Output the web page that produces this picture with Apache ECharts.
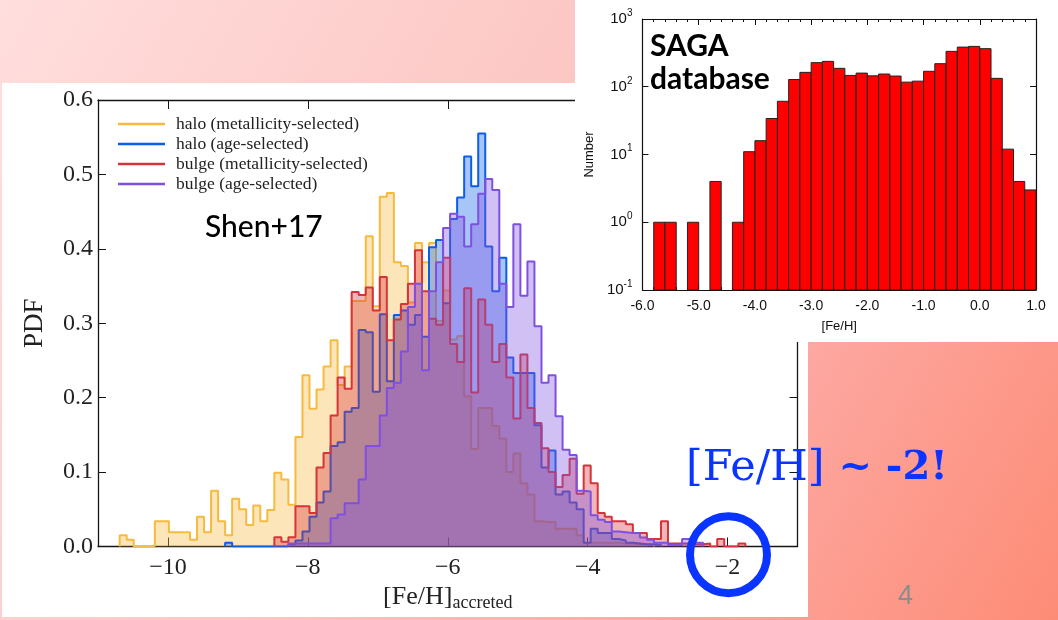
<!DOCTYPE html>
<html><head><meta charset="utf-8">
<script src="https://cdn.jsdelivr.net/npm/echarts@6.0.0/dist/echarts.min.js"></script>
<style>
html,body{margin:0;padding:0;width:1058px;height:620px;overflow:hidden;background:#fff;}
#main{position:absolute;left:0;top:0;width:1058px;height:620px;}
#inset{position:absolute;left:575px;top:0;width:483px;height:342px;background:#fff;}
</style></head><body>
<div id="main"></div><div id="inset"></div>
<script>
// ---- main figure data (PDF per [Fe/H] bin) ----
const binStart = -10.69;
const binWidth = 0.1005;
const haloMetal = [0.015,0.009,0,0,0,0.034,0.034,0.019,0.019,0.019,
  0.009,0.040,0.019,0.075,0.034,0.015,0.064,0.050,0.029,0.055,
  0.034,0.049,0.099,0.090,0.056,0.147,0.230,0.185,0.211,0.242,
  0.277,0.217,0.242,0.330,0.330,0.417,0.323,0.470,0.475,0.382,
  0.377,0.328,0.408,0.382,0.408,0.303,0.344,0.278,0.283,0.202,
  0.131,0.186,0.186,0.162,0.145,0.100,0.125,0.085,0.070,0.034,
  0.033,0.033,0.024,0.024,0.024,0.015,0.005,0.005,0.005,0.005,
  0.005,0.004,0.004,0.003,0.003,0.002];
const haloAge = [0,0,0,0,0,0,0,0,0,0,
  0,0,0,0,0,0.005,0,0,0,0,
  0,0,0,0,0.003,0.008,0.020,0.040,0.059,0.074,
  0.135,0.140,0.181,0.186,0.291,0.288,0.208,0.312,0.222,0.311,
  0.317,0.298,0.311,0.282,0.402,0.412,0.327,0.440,0.469,0.524,
  0.484,0.555,0.403,0.343,0.388,0.254,0.233,0.233,0.233,0.163,
  0.106,0.129,0.070,0.074,0.059,0.050,0.005,0.024,0.018,0.018,
  0.010,0.008,0.005,0.004,0.003,0.003,0.002];
const bulgeMetal = [0,0,0,0,0,0,0,0,0,0,
  0,0,0,0,0,0,0,0,0,0,
  0,0,0.0125,0.0065,0.0125,0.054,0.054,0.045,0.106,0.1255,
  0.176,0.227,0.212,0.342,0.338,0.348,0.317,0.362,0.277,0.305,
  0.326,0.353,0.398,0.343,0.306,0.298,0.388,0.272,0.248,0.347,
  0.207,0.332,0.298,0.248,0.272,0.227,0.172,0.258,0.186,0.166,
  0.132,0.100,0.080,0.096,0.118,0.071,0.109,0.085,0.045,0.040,
  0.034,0.034,0.030,0.018,0.018,0.010,0.010,0.034,0.004,0.004,
  0.004,0.003,0.003,0.004,0,0.010,0,0,0.004];
const bulgeAge = [0,0,0,0,0,0,0,0,0,0,
  0,0,0,0,0,0,0,0,0,0,
  0,0,0,0,0.004,0.004,0.004,0.004,0.004,0.004,
  0.038,0.043,0.058,0.058,0.090,0.135,0.135,0.176,0.213,0.220,
  0.262,0.322,0.353,0.237,0.343,0.382,0.428,0.447,0.443,0.403,
  0.433,0.474,0.494,0.479,0.353,0.322,0.433,0.337,0.383,0.296,
  0.220,0.230,0.175,0.130,0.123,0.075,0.074,0.042,0.036,0.033,
  0.020,0.019,0.018,0.018,0.012,0.009,0.005,0.005,0.002,0.002,
  0.010,0.010,0.005];
const seriesNames = ['halo (metallicity-selected)','halo (age-selected)','bulge (metallicity-selected)','bulge (age-selected)'];
const xTicks = [-10,-8,-6,-4,-2];

// ---- inset (SAGA database) data ----
const sagaLeft = [-5.8,-5.6,-5.2,-4.8,-4.4,-4.2,-4.0,-3.8,-3.6,-3.4,-3.2,-3.0,-2.8,-2.6,-2.4,-2.2,-2.0,-1.8,-1.6,-1.4,-1.2,-1.0,-0.8,-0.6,-0.4,-0.2,0.0,0.2,0.4,0.6,0.8];
const sagaCount = [1,1,1,4,1,11,16,34,61,128,163,227,237,187,147,159,145,154,144,117,121,169,219,333,385,394,365,133,12,4,3];
const sagaBinWidth = 0.2;

function edge(i){ return +(binStart + i*binWidth).toFixed(4); }
function stepData(vals){
  const out=[]; let i=0;
  while(i<vals.length){
    if(!(vals[i]>0)){ i++; continue; }
    let j=i; while(j<vals.length && vals[j]>0) j++;
    if(out.length) out.push([edge(i)-0.001, null]);
    out.push([edge(i),0]);
    for(let k=i;k<j;k++) out.push([edge(k), vals[k]]);
    out.push([edge(j),0]);
    i=j;
  }
  return out;
}

const colors = ['#F6BA3E','#0B5EEA','#D6333A','#7F50E0'];
const allVals = [haloMetal, haloAge, bulgeMetal, bulgeAge];
const SERIF = 'Liberation Serif';

const mainChart = echarts.init(document.getElementById('main'), null, {renderer:'canvas'});
const mainSeries = allVals.map((vals, k) => ({
  name: seriesNames[k], type:'line', step:'end', data: stepData(vals),
  showSymbol:false, symbol:'none', connectNulls:false,
  itemStyle:{color:colors[k]},
  lineStyle:{color:colors[k], width:2},
  areaStyle:{color:colors[k], opacity:0.36},
  z: 2 + k, silent:true
}));

function axisCommon(){
  return {axisLine:{show:true,onZero:false,lineStyle:{color:'#151515',width:1.3}}, splitLine:{show:false}};
}
mainChart.setOption({
  animation:false,
  graphic:[
    {type:'rect', z:-20, shape:{x:0,y:0,width:1058,height:620},
      style:{fill:new echarts.graphic.LinearGradient(0,0,1,1,[
        {offset:0,color:'#ffdedd'},{offset:0.44,color:'#fcc6c3'},{offset:0.71,color:'#fda8a2'},{offset:1,color:'#fd8c76'}])}},
    {type:'rect', z:-10, shape:{x:2,y:83,width:806,height:534}, style:{fill:'#ffffff'}},
    {type:'text', z:100, left:205, top:212, style:{text:'Shen+17', font:'500 30px Lato', fill:'#000'}},
    {type:'text', z:100, left:686, top:447, style:{rich:{
        a:{font:'43px "DejaVu Serif"', fill:'#0a34ff'},
        b:{font:'bold 40px "DejaVu Serif"', fill:'#0a34ff'}},
        text:'{a|[Fe/H]}{b| ~ -2!}'}},
    {type:'circle', z:100, shape:{cx:728.5, cy:554.7, r:38.5}, style:{fill:'none', stroke:'#0a34ff', lineWidth:8}},
    {type:'text', z:100, left:898, top:583, style:{text:'4', font:'27px "Liberation Sans"', fill:'#8c8c8c'}}
  ],
  legend:{
    orient:'vertical', left:113, top:110, itemWidth:47, itemHeight:2.5, itemGap:2, icon:'rect',
    selectedMode:false, data:seriesNames,
    textStyle:{fontFamily:SERIF, fontSize:17.5, color:'#222', lineHeight:17.3, padding:[0,0,0,6]}
  },
  grid:{left:98, top:100, width:699.5, height:446.5, containLabel:false},
  xAxis:[
    Object.assign(axisCommon(), {type:'value', min:-11, max:-1, position:'bottom',
      axisTick:{show:true, inside:true, length:9, customValues:xTicks, lineStyle:{color:'#151515'}},
      axisLabel:{customValues:xTicks, formatter:v=>String(v).replace('-','\u2212'), fontFamily:SERIF, fontSize:24, color:'#222', margin:9},
      name:'{a|[Fe/H]}{b|accreted}', nameLocation:'middle', nameGap:31,
      nameTextStyle:{rich:{a:{fontFamily:SERIF,fontSize:26,color:'#222',lineHeight:30},
        b:{fontFamily:SERIF,fontSize:18,color:'#222',lineHeight:19,verticalAlign:'bottom'}}}}),
    Object.assign(axisCommon(), {type:'value', min:-11, max:-1, position:'top',
      axisTick:{show:true, inside:true, length:9, customValues:xTicks, lineStyle:{color:'#151515'}},
      axisLabel:{show:false}})
  ],
  yAxis:[
    Object.assign(axisCommon(), {type:'value', min:0, max:0.6, interval:0.1, position:'left',
      axisTick:{show:true, inside:true, length:8, lineStyle:{color:'#151515'}},
      axisLabel:{formatter:v=>v.toFixed(1), fontFamily:SERIF, fontSize:24, color:'#222', margin:5},
      name:'PDF', nameLocation:'middle', nameGap:50, nameRotate:90,
      nameTextStyle:{fontFamily:SERIF, fontSize:27, color:'#222'}}),
    Object.assign(axisCommon(), {type:'value', min:0, max:0.6, interval:0.1, position:'right',
      axisTick:{show:true, inside:true, length:8, lineStyle:{color:'#151515'}},
      axisLabel:{show:false}})
  ],
  series: mainSeries
});

// ---- inset chart ----
const insetChart = echarts.init(document.getElementById('inset'), null, {renderer:'canvas'});
const SANS = 'Liberation Sans';
function insetAxis(){
  return {axisLine:{show:true,onZero:false,lineStyle:{color:'#111',width:1.2}}, splitLine:{show:false}};
}
insetChart.setOption({
  animation:false,
  grid:{left:64, top:19, width:397, height:271},
  graphic:[
    {type:'text', z:100, left:75, top:31, style:{text:'SAGA', font:'bold 30px Lato', fill:'#000'}},
    {type:'text', z:100, left:75, top:64, style:{text:'database', font:'bold 30px Lato', fill:'#000'}}
  ],
  xAxis:[
    Object.assign(insetAxis(), {type:'value', min:-6, max:1, interval:1, position:'bottom',
      axisTick:{inside:true, length:6, lineStyle:{color:'#111'}},
      minorTick:{show:true, splitNumber:5, length:3, lineStyle:{color:'#111'}},
      axisLabel:{formatter:v=>v.toFixed(1), fontFamily:SANS, fontSize:14, color:'#111', margin:9},
      name:'[Fe/H]', nameLocation:'middle', nameGap:30, nameTextStyle:{fontFamily:SANS, fontSize:13, color:'#111'}}),
    Object.assign(insetAxis(), {type:'value', min:-6, max:1, interval:1, position:'top',
      axisTick:{inside:true, length:6, lineStyle:{color:'#111'}},
      minorTick:{show:true, splitNumber:5, length:3, lineStyle:{color:'#111'}},
      axisLabel:{show:false}})
  ],
  yAxis:[
    Object.assign(insetAxis(), {type:'log', logBase:10, min:0.1, max:1000, position:'left',
      axisTick:{inside:true, length:6, lineStyle:{color:'#111'}},
      axisLabel:{margin:10, formatter:v=>'{b|10}{s|'+Math.round(Math.log10(v))+'}',
        rich:{b:{fontFamily:SANS,fontSize:15,color:'#111',lineHeight:22},
              s:{fontFamily:SANS,fontSize:10,color:'#111',lineHeight:10,verticalAlign:'top'}}},
      name:'Number', nameLocation:'middle', nameGap:44, nameRotate:90,
      nameTextStyle:{fontFamily:SANS, fontSize:13, color:'#111'}}),
    Object.assign(insetAxis(), {type:'log', logBase:10, min:0.1, max:1000, position:'right',
      axisTick:{inside:true, length:6, lineStyle:{color:'#111'}},
      axisLabel:{show:false}})
  ],
  series:[{
    type:'custom', xAxisIndex:0, yAxisIndex:0, encode:{x:0, y:1}, silent:true,
    data: sagaLeft.map((x,i)=>[x, sagaCount[i]]),
    renderItem:function(params, api){
      const x0 = api.value(0), v = api.value(1);
      const p0 = api.coord([x0, 0.1]);
      const p1 = api.coord([x0 + sagaBinWidth, v]);
      return {type:'rect', shape:{x:p0[0], y:p1[1], width:p1[0]-p0[0], height:p0[1]-p1[1]},
        style:{fill:'#ff0000', stroke:'#222', lineWidth:1}};
    }
  }]
});
</script>
</body></html>
